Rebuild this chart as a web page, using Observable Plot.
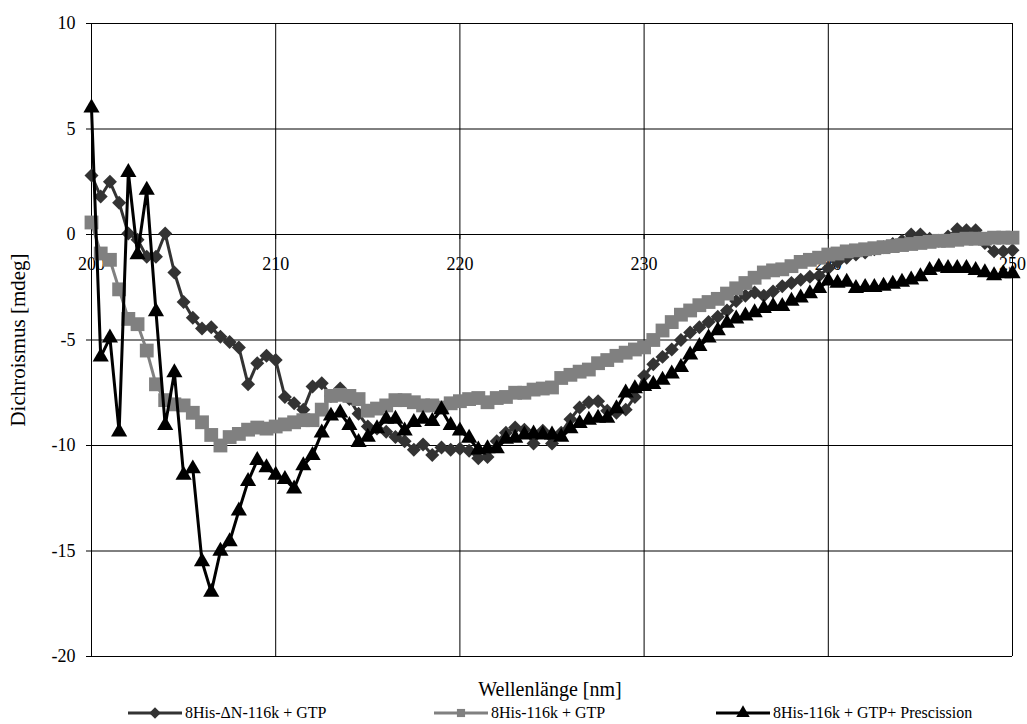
<!DOCTYPE html>
<html><head><meta charset="utf-8">
<script src="https://cdn.jsdelivr.net/npm/d3@7"></script>
<script src="https://cdn.jsdelivr.net/npm/@observablehq/plot@0.6"></script>
<style>
body{margin:0;background:#fff;font-family:"Liberation Serif",serif;color:#000;}
#wrap{position:relative;width:1027px;height:724px;overflow:hidden;}
#xtitle{position:absolute;top:678px;text-align:center;font-size:20px;}
#ytitle{position:absolute;left:18px;top:340px;font-size:21px;transform:translate(-50%,-50%) rotate(-90deg);white-space:nowrap;}
.leg{position:absolute;top:704px;font-size:16px;display:flex;align-items:center;white-space:nowrap;height:18px;}
.leg svg{margin-right:3px;}
</style></head><body><div id="wrap"></div>
<script>
const wavelengths = d3.range(200, 250.01, 0.5);
const seriesNames = ["8His-\u0394N-116k + GTP", "8His-116k + GTP", "8His-116k + GTP+ Prescission"];
const seriesColors = ["#333333", "#808080", "#000000"];
const seriesSymbols = ["diamond2", "square", "triangle"];
const xTicks = [200, 210, 220, 230, 240, 250];
const yTicks = [-20, -15, -10, -5, 0, 5, 10];

const deltaN = [
 2.8, 1.8, 2.5, 1.5, 0.05, -0.25, -1.05, -1.05, 0.05, -1.8,
 -3.2, -3.95, -4.45, -4.4, -4.85, -5.1, -5.35, -7.1, -6.1, -5.75,
 -5.95, -7.7, -8.0, -8.3, -7.2, -7.05, -7.65, -7.3, -7.8, -8.5,
 -9.1, -9.2, -9.35, -9.6, -9.8, -10.2, -9.95, -10.45, -10.1, -10.2,
 -10.15, -10.25, -10.6, -10.55, -9.8, -9.4, -9.15, -9.25, -9.9, -9.3,
 -9.9, -9.4, -8.75, -8.2, -7.95, -7.9, -8.35, -8.45, -8.3, -7.7,
 -6.7, -6.15, -5.8, -5.45, -5.0, -4.65, -4.4, -4.15, -3.9, -3.6,
 -3.15, -2.9, -2.75, -2.9, -2.7, -2.45, -2.3, -2.15, -2.0, -1.95,
 -1.6, -1.3, -1.1, -0.95, -0.85, -0.7, -0.6, -0.45, -0.3, 0.0,
 0.0, -0.2, -0.3, -0.1, 0.25, 0.2, 0.2, -0.4, -0.8, -0.8,
 -0.75
];
const his116 = [
 0.57, -0.9, -1.2, -2.6, -4.0, -4.25, -5.5, -7.1, -7.85, -8.05,
 -8.1, -8.45, -8.9, -9.5, -10.0, -9.6, -9.45, -9.25, -9.15, -9.2,
 -9.1, -9.0, -8.9, -8.8, -8.8, -8.3, -7.65, -7.6, -7.65, -7.8,
 -8.35, -8.25, -8.1, -7.85, -7.85, -7.95, -8.1, -8.1, -8.2, -8.0,
 -7.9, -7.8, -7.75, -7.95, -7.75, -7.7, -7.5, -7.5, -7.35, -7.3,
 -7.25, -6.8, -6.65, -6.5, -6.4, -6.1, -5.95, -5.75, -5.6, -5.45,
 -5.35, -5.0, -4.55, -4.15, -3.8, -3.6, -3.35, -3.2, -3.05, -2.8,
 -2.55, -2.3, -2.05, -1.8, -1.7, -1.65, -1.5, -1.3, -1.2, -1.1,
 -0.95, -0.9, -0.8, -0.75, -0.7, -0.65, -0.6, -0.55, -0.5, -0.45,
 -0.4, -0.35, -0.3, -0.3, -0.25, -0.2, -0.2, -0.2, -0.15, -0.15,
 -0.15
];
const prescission = [
 6.0, -5.8, -4.9, -9.35, 2.95, -0.95, 2.1, -3.65, -9.05, -6.55,
 -11.4, -11.1, -15.5, -16.95, -15.0, -14.55, -13.1, -11.7, -10.7, -11.05,
 -11.4, -11.6, -12.05, -10.95, -10.47, -9.4, -8.6, -8.45, -9.05, -9.85,
 -9.6, -9.2, -8.75, -8.75, -9.3, -8.9, -8.75, -8.85, -8.3, -9.05,
 -9.3, -9.65, -10.2, -10.15, -10.15, -9.7, -9.65, -9.5, -9.45, -9.5,
 -9.5, -9.6, -9.2, -8.95, -8.8, -8.7, -8.7, -8.25, -7.5, -7.3,
 -7.2, -7.1, -6.9, -6.6, -6.3, -5.7, -5.3, -4.9, -4.55, -4.2,
 -4.0, -3.85, -3.7, -3.5, -3.4, -3.4, -3.15, -3.0, -2.8, -2.55,
 -2.2, -2.3, -2.25, -2.55, -2.5, -2.5, -2.45, -2.35, -2.25, -2.15,
 -2.0, -1.7, -1.55, -1.6, -1.6, -1.6, -1.7, -1.8, -1.95, -1.85,
 -1.85
];

const allSeries = [deltaN, his116, prescission];
const rows = [];
allSeries.forEach((vals, s) => vals.forEach((v, i) => rows.push({s, name: seriesNames[s], x: wavelengths[i], y: v})));
const rowsOf = s => rows.filter(r => r.s === s);
const symR = [6.3, 7.8, 6.0];

const marks = [
  Plot.ruleY(yTicks, {y: d => d, stroke: "#000", strokeWidth: 1}),
  Plot.ruleX(xTicks, {x: d => d, stroke: "#000", strokeWidth: 1}),
  Plot.ruleX(xTicks, {x: d => d, y1: () => 0, y2: () => 0, insetBottom: -5, stroke: "#000"}),
  Plot.text(xTicks, {x: d => d, y: () => 0, text: d => String(d), dy: 30, fontSize: 18, fill: "#000"})
];
[0, 1, 2].forEach(s => {
  marks.push(Plot.line(rowsOf(s), {x: "x", y: "y", stroke: seriesColors[s], strokeWidth: 3}));
  marks.push(Plot.dot(rowsOf(s), {x: "x", y: "y", symbol: () => seriesSymbols[s], r: symR[s], fill: seriesColors[s], stroke: "none"}));
});

const chart = Plot.plot({
  width: 1027,
  height: 680,
  marginTop: 23,
  marginBottom: 24,
  marginLeft: 91,
  marginRight: 15,
  style: {fontFamily: "Liberation Serif", fontSize: "18px", color: "#000", background: "#fff"},
  x: {domain: [200, 250], axis: null},
  y: {domain: [-20, 10], ticks: yTicks, tickSize: 5, tickPadding: 11, label: null, tickFormat: d => String(d)},
  symbol: {type: "identity"},
  marks
});

const wrap = document.getElementById("wrap");
wrap.appendChild(chart);
const xt = document.createElement("div"); xt.id = "xtitle"; xt.style.left = "0px"; xt.style.width = "1100px"; xt.textContent = "Wellenlänge [nm]"; wrap.appendChild(xt);
const yt = document.createElement("div"); yt.id = "ytitle"; yt.textContent = "Dichroismus [mdeg]"; wrap.appendChild(yt);

const legLeft = [128, 434, 716];
const symbolTypes = [d3.symbolDiamond2, d3.symbolSquare, d3.symbolTriangle];
const symArea = [Math.PI * 5.2 * 5.2, Math.PI * 4.6 * 4.6, Math.PI * 5 * 5];
seriesNames.forEach((n, s) => {
  const d = document.createElement("div");
  d.className = "leg";
  d.style.left = legLeft[s] + "px";
  const p = d3.symbol(symbolTypes[s], symArea[s])();
  d.innerHTML = `<svg width="54" height="18"><line x1="0" x2="54" y1="9" y2="9" stroke="${seriesColors[s]}" stroke-width="3"/><path transform="translate(27,9)" d="${p}" fill="${seriesColors[s]}"/></svg><span>${n}</span>`;
  wrap.appendChild(d);
});
</script></body></html>
